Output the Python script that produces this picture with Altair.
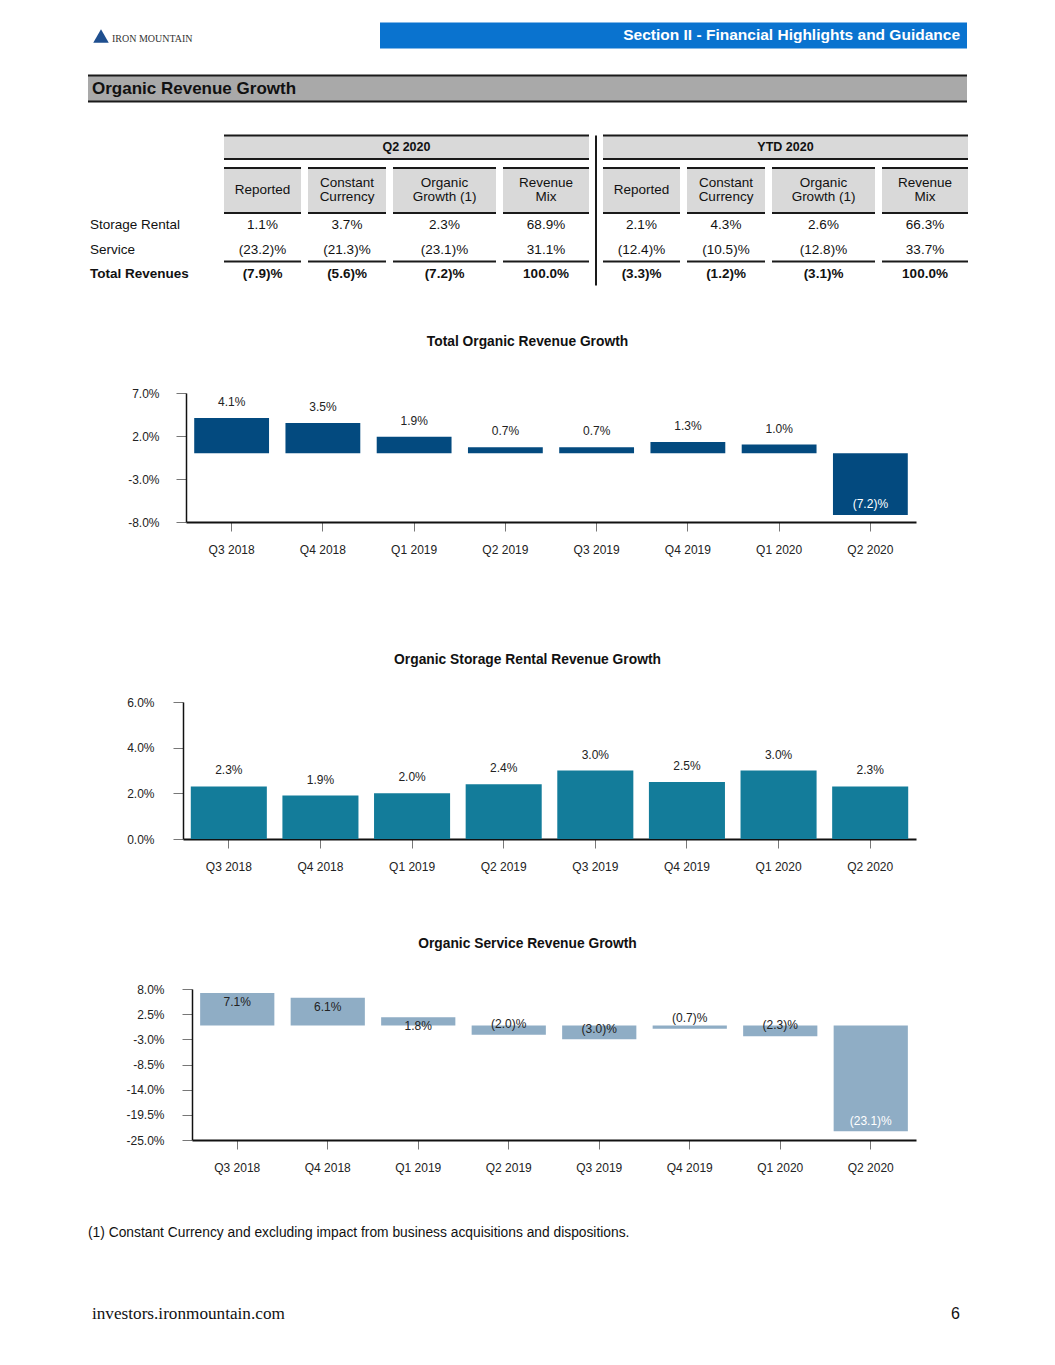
import altair as alt
import pandas as pd

FONT = "Liberation Sans"
SERIF = "Liberation Serif"

# ---------------- data ----------------
quarters = ["Q3 2018", "Q4 2018", "Q1 2019", "Q2 2019", "Q3 2019", "Q4 2019", "Q1 2020", "Q2 2020"]
total_growth = [4.1, 3.5, 1.9, 0.7, 0.7, 1.3, 1.0, -7.2]
storage_growth = [2.3, 1.9, 2.0, 2.4, 3.0, 2.5, 3.0, 2.3]
service_growth = [7.1, 6.1, 1.8, -2.0, -3.0, -0.7, -2.3, -23.1]
# where each service-growth label sits (value units)
service_label_pos = [5.1, 4.0, -0.1, 0.3, -0.8, 1.6, 0.1, -20.9]

total_ticks = [7.0, 2.0, -3.0, -8.0]
storage_ticks = [6.0, 4.0, 2.0, 0.0]
service_ticks = [8.0, 2.5, -3.0, -8.5, -14.0, -19.5, -25.0]

period_titles = ["Q2 2020", "YTD 2020"]
column_titles = ["Reported", "Constant\nCurrency", "Organic\nGrowth (1)", "Revenue\nMix"]
row_titles = ["Storage Rental", "Service", "Total Revenues"]
q2_table = [["1.1%", "3.7%", "2.3%", "68.9%"],
            ["(23.2)%", "(21.3)%", "(23.1)%", "31.1%"],
            ["(7.9)%", "(5.6)%", "(7.2)%", "100.0%"]]
ytd_table = [["2.1%", "4.3%", "2.6%", "66.3%"],
             ["(12.4)%", "(10.5)%", "(12.8)%", "33.7%"],
             ["(3.3)%", "(1.2)%", "(3.1)%", "100.0%"]]

page_header = "Section II - Financial Highlights and Guidance"
section_title = "Organic Revenue Growth"
logo_text = "IRON MOUNTAIN"
chart_titles = ["Total Organic Revenue Growth",
                "Organic Storage Rental Revenue Growth",
                "Organic Service Revenue Growth"]
footnote = "(1) Constant Currency and excluding impact from business acquisitions and dispositions."
footer_url = "investors.ironmountain.com"
page_number = "6"

# ---------------- layout (page pixels) ----------------
PAGE_W = 1039
LEFT = 8
RIGHT = LEFT + PAGE_W
col_spans = [(224, 301), (308, 386), (393, 496), (503, 589),
             (603, 680), (687, 765), (772, 875), (882, 968)]
group_spans = [(224, 589), (603, 968)]
row_y = [224, 249, 273]
SUBHEAD_MID = 189
SUBHEAD_LH = 14
LINE = "#1a1a1a"
HEAD_FILL = "#d9d9d9"
TXT = "#111111"


def sx_page():
    return alt.Scale(domain=[LEFT, RIGHT], nice=False, zero=False)


def sy_page(top, bottom):
    return alt.Scale(domain=[top, bottom], reverse=True, nice=False, zero=False)


def text_layer(rows, sx, sy, size, weight="normal", align="left", color=TXT, font=FONT, **kw):
    df = pd.DataFrame(rows, columns=["x", "y", "t"])
    return alt.Chart(df).mark_text(fontSize=size, fontWeight=weight, align=align,
                                   baseline="middle", color=color, font=font, **kw).encode(
        x=alt.X("x:Q", scale=sx, axis=None),
        y=alt.Y("y:Q", scale=sy, axis=None),
        text="t:N")


# ---------------- section A: header + table ----------------
A_TOP, A_BOT = 7.5, 352
sxA, syA = sx_page(), sy_page(A_TOP, A_BOT)

rect_rows = [(380, 967, 22, 48, "#0a73cf"), (88, 967, 75, 101, "#a9a9a9")]
for a, b in group_spans:
    rect_rows.append((a, b, 135, 158.5, HEAD_FILL))
for a, b in col_spans:
    rect_rows.append((a, b, 167.5, 212.5, HEAD_FILL))
rects = pd.DataFrame(rect_rows, columns=["x", "x2", "y", "y2", "fill"])
rect_layer = alt.Chart(rects).mark_rect().encode(
    x=alt.X("x:Q", scale=sxA, axis=None), x2="x2:Q",
    y=alt.Y("y:Q", scale=syA, axis=None), y2="y2:Q",
    color=alt.Color("fill:N", scale=None))

rule_rows = [(88, 967, 75, 75, 2), (88, 967, 101, 101, 2)]
for a, b in group_spans:
    rule_rows += [(a, b, 135, 135, 2), (a, b, 158.5, 158.5, 2)]
for a, b in col_spans:
    rule_rows += [(a, b, 167.5, 167.5, 2), (a, b, 212.5, 212.5, 2), (a, b, 261, 261, 2)]
rule_rows.append((596, 596, 135, 285, 2))
rules = pd.DataFrame(rule_rows, columns=["x", "x2", "y", "y2", "w"])
rule_layer = alt.Chart(rules).mark_rule(color=LINE).encode(
    x=alt.X("x:Q", scale=sxA, axis=None), x2="x2:Q",
    y=alt.Y("y:Q", scale=syA, axis=None), y2="y2:Q",
    strokeWidth=alt.StrokeWidth("w:Q", scale=None))

logo = alt.Chart(pd.DataFrame({"x": [101], "y": [35.5]})).mark_point(
    shape="triangle-up", filled=True, size=240, color="#1f4f8f", opacity=1).encode(
    x=alt.X("x:Q", scale=sxA, axis=None), y=alt.Y("y:Q", scale=syA, axis=None))

a_layers = [rect_layer, rule_layer, logo,
            text_layer([(112, 38, logo_text)], sxA, syA, 10, color="#333333", font=SERIF),
            text_layer([(960, 34, page_header)], sxA, syA, 15.5, "bold", "right", "white"),
            text_layer([(92, 88, section_title)], sxA, syA, 17, "bold")]

grp_rows = [((a + b) / 2, 146, t) for (a, b), t in zip(group_spans, period_titles)]
a_layers.append(text_layer(grp_rows, sxA, syA, 12.5, "bold", "center"))

sub_rows = []
for i, (a, b) in enumerate(col_spans):
    label = column_titles[i % 4]
    n_lines = label.count("\n") + 1
    sub_rows.append(((a + b) / 2, SUBHEAD_MID - SUBHEAD_LH * (n_lines - 1) / 2, label))
a_layers.append(text_layer(sub_rows, sxA, syA, 13.5, "normal", "center",
                           lineBreak="\n", lineHeight=SUBHEAD_LH))

a_layers.append(text_layer([(90, row_y[0], row_titles[0]), (90, row_y[1], row_titles[1])], sxA, syA, 13.5))
a_layers.append(text_layer([(90, row_y[2], row_titles[2])], sxA, syA, 13.5, "bold"))

val_rows, val_bold = [], []
for r in range(3):
    vals = q2_table[r] + ytd_table[r]
    for c, (a, b) in enumerate(col_spans):
        row = ((a + b) / 2, row_y[r], vals[c])
        (val_bold if r == 2 else val_rows).append(row)
a_layers.append(text_layer(val_rows, sxA, syA, 13.5, "normal", "center"))
a_layers.append(text_layer(val_bold, sxA, syA, 13.5, "bold", "center"))

section_a = alt.layer(*a_layers).properties(width=PAGE_W, height=A_BOT - A_TOP)

# ---------------- bar sections ----------------
LABEL_EXPR = "datum.v < 0 ? '(' + format(-datum.v, '.1f') + ')%' : format(datum.v, '.1f') + '%'"
TICK_EXPR = "(datum.value < 0 ? '-' : '') + format(abs(datum.value), '.1f') + '%'"


def bar_section(values, color, title, ydom, yticks, view_top, view_h, plot_top, plot_bottom,
                axis_left, pad_inner, label_specs, label_pos=None, ylab_pad=17):
    data = {"q": quarters, "v": values}
    if label_pos is not None:
        data["lp"] = label_pos
    df = pd.DataFrame(data)
    sx = alt.Scale(domain=quarters, range=[axis_left - LEFT, 916 - LEFT],
                   paddingInner=pad_inner, paddingOuter=pad_inner / 2)
    sy = alt.Scale(domain=ydom, range=[plot_bottom - view_top, plot_top - view_top],
                   nice=False, zero=False)
    xaxis = alt.Axis(title=None, labelAngle=0, labelFont=FONT, labelFontSize=12,
                     labelColor="#222222", tickColor="#777777", tickSize=9, tickWidth=1,
                     domainColor="#111111", domainWidth=2, labelPadding=13, grid=False,
                     offset=-(view_h - (plot_bottom - view_top)))
    yaxis = alt.Axis(title=None, values=yticks, labelExpr=TICK_EXPR, labelFont=FONT,
                     labelFontSize=12, labelColor="#222222", tickColor="#777777", tickSize=10,
                     tickWidth=1, domainColor="#111111", domainWidth=1.5,
                     labelPadding=ylab_pad, grid=False, offset=-(axis_left - LEFT))
    base = alt.Chart(df).transform_calculate(lab=LABEL_EXPR)
    bars = base.mark_bar(color=color).encode(
        x=alt.X("q:N", sort=quarters, scale=sx, axis=xaxis),
        y=alt.Y("v:Q", scale=sy, axis=yaxis),
        y2=alt.datum(0))
    layers = [bars]
    for filt, field, dy, tcolor in label_specs:
        layers.append(base.transform_filter(filt).mark_text(
            fontSize=12, font=FONT, color=tcolor, dy=dy, baseline="middle").encode(
            x=alt.X("q:N", sort=quarters, scale=sx, axis=xaxis),
            y=alt.Y(f"{field}:Q", scale=sy, axis=yaxis),
            text="lab:N"))
    return alt.layer(*layers).properties(
        width=PAGE_W, height=view_h,
        title=alt.TitleParams(title, font=FONT, fontSize=13.8, fontWeight="bold",
                              color="#111111", anchor="middle", offset=4))


B_TOP, B_BOT = 352, 670
section_b = bar_section(total_growth, "#034a7f", chart_titles[0], [-8, 7], total_ticks,
                        B_TOP, B_BOT - B_TOP, 392, 521, 186, 0.18,
                        [("datum.v >= 0", "v", -16, "#222222"),
                         ("datum.v < 0", "v", -11, "white")], ylab_pad=17)

C_TOP, C_BOT = 670, 954
section_c = bar_section(storage_growth, "#137c9a", chart_titles[1], [0, 6], storage_ticks,
                        C_TOP, C_BOT - C_TOP, 701, 838, 183, 0.17,
                        [("true", "v", -16, "#222222")], ylab_pad=19)

D_TOP, D_BOT = 954, 1200
section_d = bar_section(service_growth, "#8fadc5", chart_titles[2], [-25, 8], service_ticks,
                        D_TOP, D_BOT - D_TOP, 988, 1139, 192, 0.18,
                        [("datum.v > -10", "lp", 0, "#222222"),
                         ("datum.v <= -10", "lp", 0, "white")],
                        label_pos=service_label_pos, ylab_pad=18)

# ---------------- section E: footer ----------------
E_TOP, E_BOT = 1200, 1349
sxE, syE = sx_page(), sy_page(E_TOP, E_BOT)
section_e = alt.layer(
    text_layer([(88, 1232, footnote)], sxE, syE, 13.8),
    text_layer([(92, 1313, footer_url)], sxE, syE, 17.2, color="#111111", font=SERIF),
    text_layer([(960, 1313, page_number)], sxE, syE, 16, align="right"),
).properties(width=PAGE_W, height=E_BOT - E_TOP)

chart = alt.vconcat(section_a, section_b, section_c, section_d, section_e,
                    spacing=0, bounds="flush").properties(padding=0).configure(
    font=FONT, view=alt.ViewConfig(strokeWidth=0))

chart.save("out.html", embed_options={"renderer": "svg", "actions": False})
